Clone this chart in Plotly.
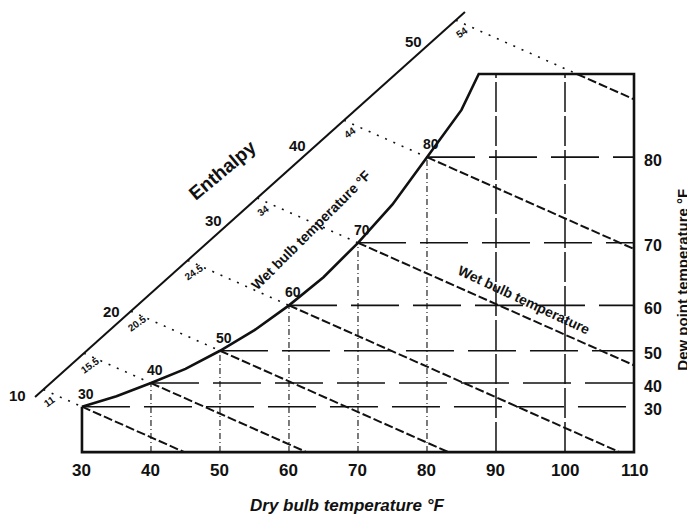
import numpy as np
import plotly.graph_objects as go

# ---------------- data ----------------
# Saturation curve: dry bulb °F vs humidity ratio (grains / lb)
SAT_T = [30, 35, 40, 45, 50, 55, 60, 65, 70, 75, 80, 85, 90]
SAT_W = [24, 29.5, 36.5, 44, 53.6, 64.5, 77.6, 92.5, 110.7, 131, 156, 181, 219]
BOX_TOP_W = 200
T_MIN, T_MAX = 30, 110

# Wet bulb lines
WB_TEMPS = [30, 40, 50, 60, 70, 80, 90]
WB_SLOPE = -1.62  # grains per °F along a wet bulb line
WB_ENTH_LABELS = ["11", "15.5", "20.5", "24.5", "34", "44", "54"]
SAT_LABELS = ["30", "40", "50", "60", "70", "80"]

# Dew point lines / right scale
DEW_TEMPS = [30, 40, 50, 60, 70, 80]
DEW_LABELS = ["30", "40", "50", "60", "70", "80"]

# Dry bulb scale
DRY_TICKS = [30, 40, 50, 60, 70, 80, 90, 100, 110]
DRY_LABELS = ["30", "40", "50", "60", "70", "80", "90", "100", "110"]
DRY_PARTIAL = [40, 50, 60, 70, 80]
DRY_FULL = [90, 100]

# Enthalpy scale line (dry bulb, humidity ratio of its two ends)
ENTH_LINE_T = [23.2, 85.5]
ENTH_LINE_W = [29.1, 232.8]
ENTH_TICKS = ["10", "20", "30", "40", "50"]
ENTH_TICK_T = [20.7, 34.3, 49.0, 61.2, 78.0]

# ---------------- helpers ----------------
sat = dict(zip(SAT_T, SAT_W))
m_enth = (ENTH_LINE_W[1] - ENTH_LINE_W[0]) / (ENTH_LINE_T[1] - ENTH_LINE_T[0])


def enth_w(t):
    return ENTH_LINE_W[0] + m_enth * (t - ENTH_LINE_T[0])


INK = "#111111"
FONT = "Liberation Sans"

fig = go.Figure()


def add_line(xs, ys, width=1.5, dash="solid"):
    fig.add_trace(go.Scatter(x=xs, y=ys, mode="lines",
                             line=dict(color=INK, width=width, dash=dash),
                             hoverinfo="skip", showlegend=False))


# saturation curve + chart outline
t_top = float(np.interp(BOX_TOP_W, SAT_W, SAT_T))
curve_t = [t for t, w in zip(SAT_T, SAT_W) if w < BOX_TOP_W]
curve_w = [w for w in SAT_W if w < BOX_TOP_W]
outline_t = curve_t + [t_top, T_MAX, T_MAX, T_MIN, T_MIN]
outline_w = curve_w + [BOX_TOP_W, BOX_TOP_W, 0, 0, SAT_W[0]]
add_line(outline_t, outline_w, width=2.6)

# enthalpy line
add_line(ENTH_LINE_T, ENTH_LINE_W, width=2)

# dew point lines
for d in DEW_TEMPS:
    add_line([d, T_MAX], [sat[d], sat[d]], width=1.6, dash="48px,14px")

# dry bulb verticals
for t in DRY_PARTIAL:
    add_line([t, t], [0, sat[t]], width=1.1, dash="6px,3px,1px,3px")
for t in DRY_FULL:
    add_line([t, t], [0, BOX_TOP_W], width=1.5, dash="30px,4px")

# wet bulb lines and their dotted extensions to the enthalpy scale
for wb, lab in zip(WB_TEMPS, WB_ENTH_LABELS):
    ws = sat[wb]
    t_start = wb if ws <= BOX_TOP_W else wb + (BOX_TOP_W - ws) / WB_SLOPE
    t_zero = wb + (0 - ws) / WB_SLOPE
    t_end = min(T_MAX, t_zero)
    w_start = ws + WB_SLOPE * (t_start - wb)
    w_end = ws + WB_SLOPE * (t_end - wb)
    add_line([t_start, t_end], [w_start, w_end], width=2, dash="9px,3px")
    # intersection with enthalpy line
    ti = (ws - WB_SLOPE * wb - ENTH_LINE_W[0] + m_enth * ENTH_LINE_T[0]) / (m_enth - WB_SLOPE)
    wi = enth_w(ti)
    add_line([ti, t_start], [wi, w_start], width=1.6, dash="2px,7px")
    fig.add_annotation(x=ti, y=wi, text="<b>" + lab + "</b>", showarrow=False,
                       xshift=6, yshift=-12, textangle=-35,
                       font=dict(family=FONT, size=10, color=INK))

# saturation labels
for t, lab in zip(WB_TEMPS, SAT_LABELS):
    fig.add_annotation(x=t, y=sat[t], text="<b>" + lab + "</b>", showarrow=False,
                       xshift=4, yshift=13, font=dict(family=FONT, size=14, color=INK))

# enthalpy scale labels
for t, lab in zip(ENTH_TICK_T, ENTH_TICKS):
    fig.add_annotation(x=t, y=enth_w(t), text="<b>" + lab + "</b>", showarrow=False,
                       yshift=17, font=dict(family=FONT, size=15, color=INK))

# dry bulb tick labels
for t, lab in zip(DRY_TICKS, DRY_LABELS):
    fig.add_annotation(x=t, y=0, text="<b>" + lab + "</b>", showarrow=False,
                       yshift=-18, font=dict(family=FONT, size=17, color=INK))

# dew point tick labels
for d, lab in zip(DEW_TEMPS, DEW_LABELS):
    fig.add_annotation(x=T_MAX, y=sat[d], text="<b>" + lab + "</b>", showarrow=False,
                       xanchor="left", xshift=8, yshift=-3,
                       font=dict(family=FONT, size=16, color=INK))

# titles
fig.add_annotation(x=50.3, y=149.2, text="<b>Enthalpy</b>", showarrow=False,
                   textangle=-40, font=dict(family=FONT, size=19, color=INK))
fig.add_annotation(x=63.2, y=117.5, text="<b>Wet bulb temperature °F</b>", showarrow=False,
                   textangle=-45, font=dict(family=FONT, size=14, color=INK))
fig.add_annotation(x=94.1, y=80.4, text="<b>Wet bulb temperature</b>", showarrow=False,
                   textangle=25, font=dict(family=FONT, size=14, color=INK))
fig.add_annotation(x=116.9, y=91, text="<b>Dew point temperature °F</b>", showarrow=False,
                   textangle=-90, font=dict(family=FONT, size=15, color=INK))
fig.add_annotation(x=68.4, y=-28, text="<b><i>Dry bulb temperature °F</i></b>", showarrow=False,
                   font=dict(family=FONT, size=17, color=INK))

# page body has an 8px margin, so the figure is drawn 8px in from the window corner
fig.update_layout(
    width=687, height=511,
    margin=dict(l=0, r=0, t=0, b=0),
    paper_bgcolor="white", plot_bgcolor="white",
    xaxis=dict(range=[19.28, 118.84], visible=False, showgrid=False, zeroline=False),
    yaxis=dict(range=[-35.4, 234.9], visible=False, showgrid=False, zeroline=False),
)

fig.write_html("out.html")
